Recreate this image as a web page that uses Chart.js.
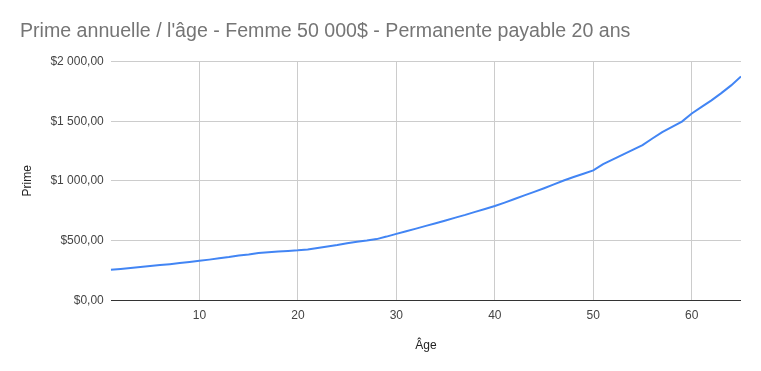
<!DOCTYPE html>
<html>
<head>
<meta charset="utf-8">
<script src="https://cdn.jsdelivr.net/npm/chart.js@4/dist/chart.umd.min.js"></script>
<style>
  body { margin: 0; background: #fff; }
  #wrap { width: 761px; height: 371px; }
</style>
</head>
<body>
<div id="wrap"><canvas id="myChart"></canvas></div>
<script>
/* DATA */
const ages = [
  1, 2, 3, 4, 5, 6, 7, 8, 9, 10,
  11, 12, 13, 14, 15, 16, 17, 18, 19, 20,
  21, 22, 23, 24, 25, 26, 27, 28, 29, 30,
  31, 32, 33, 34, 35, 36, 37, 38, 39, 40,
  41, 42, 43, 44, 45, 46, 47, 48, 49, 50,
  51, 52, 53, 54, 55, 56, 57, 58, 59, 60,
  61, 62, 63, 64, 65
];
const primes = [
  255, 262, 270, 278, 286, 294, 302, 311, 320, 330,
  340, 351, 362, 375, 383, 395, 402, 408, 413, 418,
  425, 438, 450, 462, 478, 490, 500, 512, 533, 556,
  578, 600, 623, 645, 668, 692, 715, 740, 764, 789,
  818, 848, 878, 908, 938, 970, 1003, 1032, 1060, 1088,
  1140, 1180, 1220, 1260, 1300, 1355, 1408, 1452, 1497, 1565,
  1620, 1675, 1735, 1800, 1875
];
const xTicks = [10, 20, 30, 40, 50, 60];
const yTicks = [0, 500, 1000, 1500, 2000];

function money(v){
  let s = Math.round(v).toString().replace(/\B(?=(\d{3})+(?!\d))/g, ' ');
  return '$' + s + ',00';
}

Chart.defaults.font.family = '"Liberation Sans", Arial, sans-serif';

const data = {
  datasets: [{
    label: 'Prime',
    data: ages.map((a, i) => ({ x: a, y: primes[i] })),
    borderColor: '#4285F4',
    backgroundColor: '#4285F4',
    borderWidth: 2,
    pointRadius: 0,
    tension: 0
  }]
};

const config = {
  type: 'line',
  data,
  options: {
    responsive: true,
    maintainAspectRatio: false,
    animation: false,
    layout: { padding: { left: 20, right: 20, top: 0, bottom: 14 } },
    plugins: {
      legend: { display: false },
      tooltip: { enabled: false },
      title: {
        display: true,
        text: "Prime annuelle / l'âge - Femme 50 000$ - Permanente payable 20 ans",
        align: 'start',
        color: '#757575',
        font: { size: 19.6, weight: 'normal' },
        padding: { top: 20, bottom: 18 }
      }
    },
    scales: {
      x: {
        type: 'linear',
        min: 1,
        max: 65,
        afterBuildTicks: axis => { axis.ticks = xTicks.map(v => ({ value: v })); },
        grid: { color: '#cccccc', drawTicks: false },
        border: { display: false },
        ticks: { color: '#444', font: { size: 12 }, padding: 8, maxRotation: 0 },
        title: { display: true, text: 'Âge', color: '#222', font: { size: 12 }, padding: { top: 8 } }
      },
      y: {
        min: 0,
        max: 2000,
        afterBuildTicks: axis => { axis.ticks = yTicks.map(v => ({ value: v })); },
        grid: {
          color: ctx => ctx.tick && ctx.tick.value === 0 ? '#333333' : '#cccccc',
          drawTicks: false
        },
        border: { display: false },
        ticks: { color: '#444', font: { size: 12 }, padding: 7, callback: v => money(v) },
        title: { display: true, text: 'Prime', color: '#222', font: { size: 12 }, padding: { top: 0, bottom: 9 } }
      }
    }
  }
};

let myChart = new Chart(document.getElementById('myChart'), config);
</script>
</body>
</html>
